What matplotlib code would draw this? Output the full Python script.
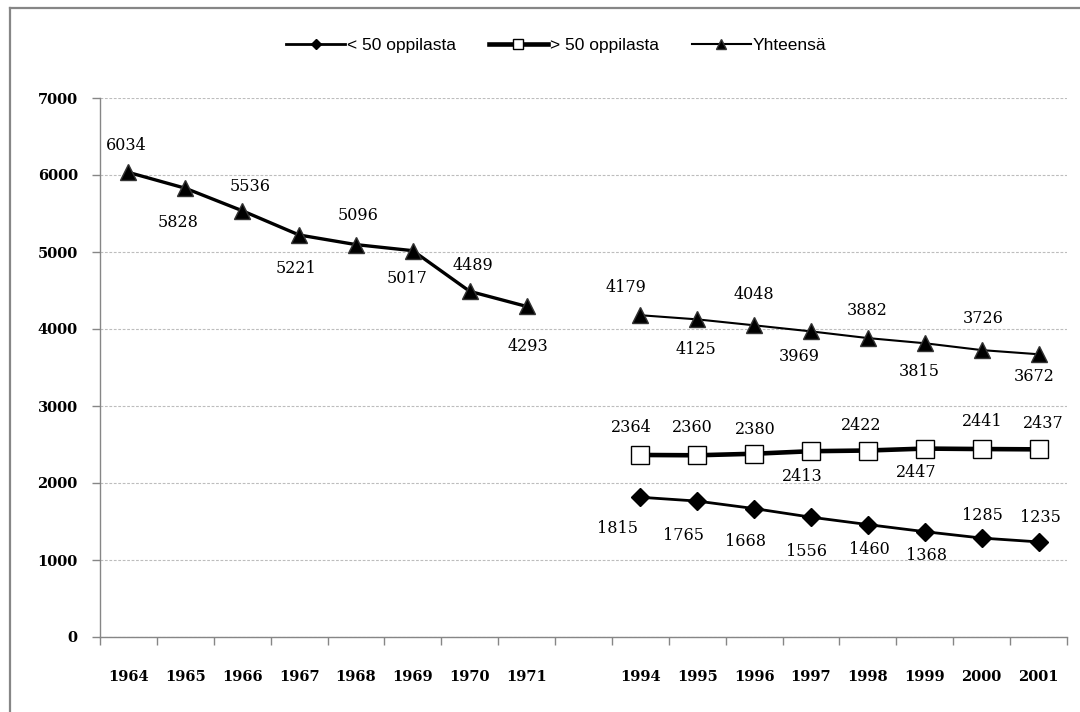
import matplotlib
matplotlib.use("Agg")
import matplotlib.pyplot as plt
from matplotlib.lines import Line2D
import numpy as np

# kategoriat: kaksi jaksoa, välissä tyhjä sarake
years_a = ["1964", "1965", "1966", "1967", "1968", "1969", "1970", "1971"]
years_b = ["1994", "1995", "1996", "1997", "1998", "1999", "2000", "2001"]
categories = years_a + [""] + years_b

total_a = [6034, 5828, 5536, 5221, 5096, 5017, 4489, 4293]
total_b = [4179, 4125, 4048, 3969, 3882, 3815, 3726, 3672]
small_b = [1815, 1765, 1668, 1556, 1460, 1368, 1285, 1235]   # < 50 oppilasta
large_b = [2364, 2360, 2380, 2413, 2422, 2447, 2441, 2437]   # > 50 oppilasta

# arvojen paikat (pikseleinä pisteestä, + = alas) - käsin siirretyt kuten alkuperäisessä
off_total_a = [(-2, -27), (-7, 34), (8, -24), (-3, 34), (2, -29), (-6, 28), (3, -26), (1, 40)]
off_total_b = [(-14, -28), (-1, 30), (0, -31), (-12, 25), (-1, -28), (-6, 28), (2, -32), (-4, 22)]
off_small_b = [(-23, 31), (-14, 34), (-9, 33), (-5, 34), (1, 25), (2, 24), (1, -23), (2, -24)]
off_large_b = [(-9, -27), (-5, -28), (1, -24), (-9, 25), (-7, -25), (-9, 24), (1, -28), (5, -26)]

x_a = np.arange(len(years_a))
x_b = np.arange(len(years_b)) + len(years_a) + 1

fig = plt.figure(figsize=(10.8, 7.12), dpi=100)
ax = fig.add_axes([100 / 1080, 1 - 637 / 712, 967 / 1080, 539 / 712])

grey = "#868686"
serif = "DejaVu Serif"

ax.plot(x_b, small_b, color="black", lw=2.0, marker="D", ms=9.5,
        mfc="black", mec="black", label="< 50 oppilasta", zorder=3)
ax.plot(x_b, large_b, color="black", lw=3.3, marker="s", ms=13,
        mfc="white", mec="black", mew=1.0, label="> 50 oppilasta", zorder=3)
ax.plot(x_a, total_a, color="black", lw=2.4, marker="^", ms=12,
        mfc="black", mec="#333333", zorder=3)
ax.plot(x_b, total_b, color="black", lw=1.5, marker="^", ms=12,
        mfc="black", mec="#333333", label="Yhteensä", zorder=3)


def labels(xs, ys, offs):
    for x, y, (dx, dy) in zip(xs, ys, offs):
        ax.annotate(str(y), (x, y), xytext=(dx, -dy), textcoords="offset pixels",
                    ha="center", va="center", fontsize=11.5, family=serif)


labels(x_a, total_a, off_total_a)
labels(x_b, total_b, off_total_b)
labels(x_b, small_b, off_small_b)
labels(x_b, large_b, off_large_b)

ax.set_xlim(-0.5, len(categories) - 0.5)
ax.set_ylim(0, 7000)
ax.set_yticks(np.arange(0, 7001, 1000))
ax.yaxis.grid(True, color="#bdbdbd", ls=(0, (2.5, 1.5)), lw=0.8)
ax.set_axisbelow(True)

# tikit kategorioiden väliin, nimet keskelle
ax.set_xticks(np.arange(len(categories) + 1) - 0.5)
ax.set_xticklabels([])
ax.set_xticks(np.arange(len(categories)), minor=True)
ax.set_xticklabels(categories, minor=True)
ax.tick_params(axis="x", which="major", length=6, color=grey, width=1)
ax.tick_params(axis="x", which="minor", length=0, pad=24)
ax.tick_params(axis="y", length=6, color=grey, width=1, pad=10)
for lab in ax.get_xticklabels(minor=True) + ax.get_yticklabels():
    lab.set_family(serif)
    lab.set_fontweight("bold")
    lab.set_fontsize(10.5)

for s in ["top", "right"]:
    ax.spines[s].set_visible(False)
for s in ["left", "bottom"]:
    ax.spines[s].set_color(grey)
    ax.spines[s].set_linewidth(1)

fig.legend(loc="center", bbox_to_anchor=(556 / 1080, 1 - 45 / 712), ncol=3,
           frameon=False, handlelength=3.4, handletextpad=0.1, columnspacing=1.9,
           markerscale=0.55, prop={"family": "Liberation Sans", "size": 12.5})

# kaavion reunaviiva (vasen ja ylä näkyvät)
fig.add_artist(Line2D([10 / 1080, 10 / 1080], [0, 1 - 8 / 712], color=grey, lw=1.6))
fig.add_artist(Line2D([10 / 1080, 1], [1 - 8 / 712, 1 - 8 / 712], color=grey, lw=1.6))

fig.savefig("out.png", dpi=100)
